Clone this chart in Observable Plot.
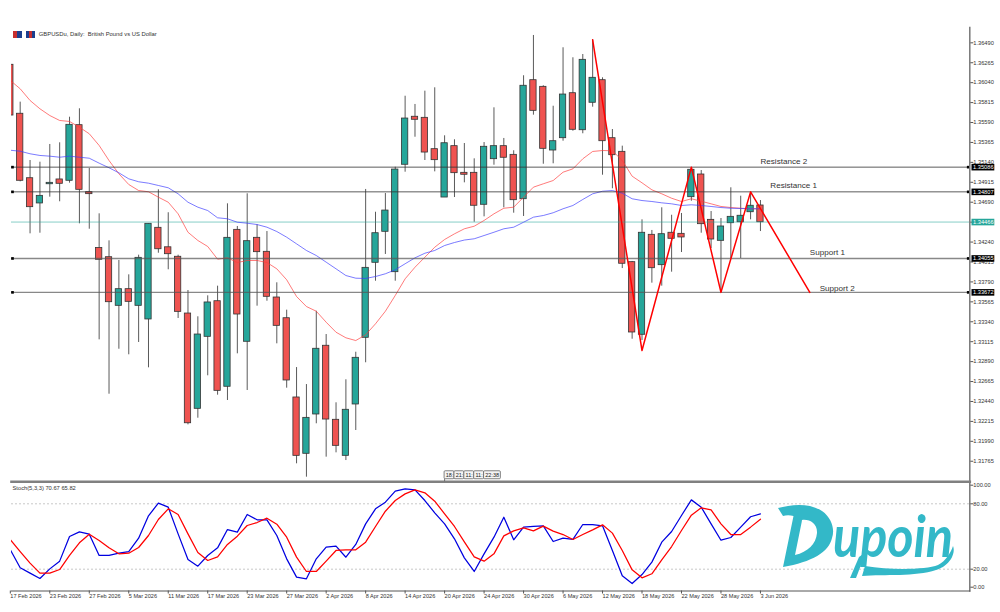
<!DOCTYPE html>
<html>
<head>
<meta charset="utf-8">
<script src="https://cdn.jsdelivr.net/npm/d3@7"></script>
<script src="https://cdn.jsdelivr.net/npm/@observablehq/plot@0.6"></script>
<style>
html,body{margin:0;padding:0;background:#fff;width:1000px;height:612px;overflow:hidden;position:relative}
svg{display:block}
.ic{position:absolute;top:31px;width:9px;height:7px}
</style>
</head>
<body>
<div class="ic" style="left:13px;background:linear-gradient(90deg,#c62f2f 0 50%,#1c3f8f 50%)"></div>
<div class="ic" style="left:26px;background:linear-gradient(90deg,#1c3f8f 0 30%,#c62f2f 30% 65%,#1c3f8f 65%)"></div>
<script>
const highs=[1.36242,1.35820,1.35161,1.35142,1.35342,1.35361,1.35650,1.35745,1.35071,1.34559,
1.34254,1.34032,1.33870,1.34092,1.34446,1.34830,1.34571,1.34092,1.33693,1.33396,
1.33633,1.33742,1.34672,1.34416,1.34785,1.34435,1.34359,1.33780,1.33471,1.32823,
1.32631,1.33459,1.33196,1.32425,1.32685,1.32996,1.34834,1.34577,1.34788,1.35085,
1.35887,1.35794,1.35944,1.35982,1.35440,1.35395,1.35353,1.35180,1.35364,1.35756,
1.35410,1.35271,1.36118,1.36573,1.36005,1.35774,1.36434,1.36321,1.36358,1.36524,
1.36095,1.35511,1.35323,1.34021,1.34491,1.34371,1.34627,1.34543,1.34563,1.35067,
1.35048,1.34585,1.34506,1.34853,1.34758,1.34788,1.34709];
const lows=[1.35669,1.34920,1.34333,1.34340,1.34747,1.34695,1.34905,1.34446,1.34385,1.33136,
1.32522,1.33030,1.32967,1.33106,1.32820,1.34114,1.33927,1.33377,1.32176,1.32251,
1.32730,1.32511,1.32451,1.32978,1.32564,1.33516,1.33572,1.33091,1.32590,1.31736,
1.31585,1.32188,1.31811,1.31860,1.31773,1.32112,1.32877,1.33798,1.34100,1.33798,
1.35029,1.35424,1.35161,1.35033,1.34743,1.34743,1.34909,1.34464,1.34525,1.35108,
1.34627,1.34566,1.34529,1.35673,1.35119,1.35124,1.35379,1.35492,1.35463,1.35763,
1.34995,1.34842,1.33941,1.33143,1.33128,1.33776,1.33742,1.33900,1.34122,1.34701,
1.34340,1.34167,1.33674,1.34051,1.34054,1.34491,1.34359];
const opens=[1.36242,1.35689,1.34961,1.34676,1.34893,1.34947,1.34932,1.35560,1.34803,1.34173,
1.34069,1.33520,1.33708,1.33520,1.33366,1.34401,1.34181,1.34074,1.33433,1.32357,
1.33170,1.33572,1.32606,1.34378,1.33114,1.34288,1.34130,1.33614,1.33380,1.32485,
1.31849,1.32293,1.33069,1.32233,1.31826,1.32406,1.33159,1.34006,1.34356,1.33900,
1.35113,1.35655,1.35643,1.35289,1.34743,1.35323,1.35022,1.35022,1.34661,1.35176,
1.35323,1.35225,1.34724,1.36068,1.35993,1.35274,1.35413,1.35921,1.35503,1.35813,
1.36068,1.35413,1.35259,1.34013,1.33193,1.34322,1.33979,1.34345,1.34333,1.34747,
1.35003,1.34491,1.34254,1.34453,1.34464,1.34577,1.34653];
const closes=[1.35669,1.34932,1.34634,1.34762,1.34909,1.34898,1.35564,1.34830,1.34781,1.34040,
1.33561,1.33708,1.33565,1.34062,1.34446,1.34159,1.34103,1.33452,1.32194,1.33196,
1.33558,1.32560,1.34288,1.33422,1.34250,1.34126,1.33622,1.33294,1.32677,1.31826,
1.32255,1.33035,1.32236,1.31939,1.32346,1.32933,1.33949,1.34340,1.34596,1.35059,
1.35635,1.35621,1.35251,1.35165,1.35356,1.35018,1.35000,1.34650,1.35316,1.35323,
1.35192,1.34713,1.36005,1.35722,1.35293,1.35379,1.35906,1.35508,1.36298,1.36095,
1.35379,1.35221,1.33995,1.33219,1.34345,1.33945,1.34329,1.34277,1.34292,1.35056,
1.34442,1.34269,1.34416,1.34525,1.34537,1.34650,1.34464];
const maFast=[1.36065,1.35971,1.35839,1.35745,1.35669,1.35613,1.35602,1.35537,1.35463,1.35331,
1.35161,1.35011,1.34890,1.34822,1.34808,1.34747,1.34690,1.34559,1.34351,1.34258,
1.34190,1.34047,1.34062,1.34009,1.34032,1.34032,1.34009,1.33938,1.33814,1.33625,
1.33512,1.33459,1.33335,1.33222,1.33159,1.33128,1.33193,1.33317,1.33459,1.33637,
1.33825,1.33956,1.34069,1.34182,1.34269,1.34333,1.34390,1.34419,1.34484,1.34559,
1.34622,1.34634,1.34747,1.34860,1.34898,1.34935,1.35029,1.35067,1.35180,1.35263,
1.35274,1.35271,1.35161,1.34984,1.34909,1.34830,1.34785,1.34735,1.34698,1.34729,
1.34701,1.34672,1.34642,1.34630,1.34622,1.34616,1.34616];
const maSlow=[1.35277,1.35266,1.35237,1.35218,1.35210,1.35198,1.35210,1.35198,1.35187,1.35131,
1.35079,1.35022,1.34954,1.34921,1.34905,1.34879,1.34853,1.34785,1.34690,1.34634,
1.34596,1.34514,1.34503,1.34464,1.34453,1.34438,1.34408,1.34359,1.34295,1.34220,
1.34145,1.34088,1.34013,1.33938,1.33862,1.33832,1.33829,1.33851,1.33882,1.33927,
1.33995,1.34062,1.34114,1.34145,1.34201,1.34235,1.34263,1.34277,1.34314,1.34351,
1.34390,1.34408,1.34464,1.34521,1.34540,1.34571,1.34616,1.34653,1.34721,1.34785,
1.34814,1.34822,1.34792,1.34729,1.34709,1.34698,1.34683,1.34672,1.34653,1.34661,
1.34653,1.34642,1.34630,1.34622,1.34619,1.34616,1.34616];
const stochMain=[37.8,21.3,16.4,11.5,20.3,27.4,50,54.3,52.1,32.6,
32.6,34.7,36.2,48.5,69,80.6,76.9,52.4,28.9,22.8,
32.6,39.6,56.4,54,70.2,65.3,65.3,50.9,29.5,12.7,
11.2,29.5,40.2,41.1,31,42.7,61.6,75.4,81.5,91.6,
93.7,92.8,83,71.7,61.6,47.9,30.4,17.9,34.1,49.4,
67.7,47,58.6,59.2,59.8,45.4,48.5,47.3,61,61,
59.8,37.2,13.9,6.9,15.1,26.5,44.8,54.6,69.3,83.6,
76.9,61.6,46.6,49.1,58.6,68.1,70.67];
const stochSignal=[47,36.2,25.6,16.4,16.4,19.7,32.6,44.2,52.1,46.3,
39.6,34.1,34.7,39.9,50.9,65.6,75.4,70.2,52.4,35.3,
28,31.3,42.7,50.3,60.1,62.8,66.8,61.3,49.4,31.1,
17.9,17.9,27.4,37.2,37.8,37.8,44.8,59.2,73.2,83,
89.1,92.8,90.1,82.4,70.8,59.2,45.1,31.3,27.4,34.1,
50.6,55.2,58,55.2,59.5,54.9,51.8,47.3,51.8,56.1,
60.7,53.1,37.2,19.4,12.1,15.8,28.6,40.8,55.5,69.6,
76.3,74.5,61.6,51.8,51.8,58.6,65.82];
const zigzagBars=[59,64,69,72,75,81];
const zigzagPrices=[1.36524,1.33015,1.35086,1.33672,1.34807,1.33672];
const priceTicks=[1.36490,1.36265,1.36040,1.35815,1.35590,1.35365,1.35140,1.34915,1.34690,1.34465,1.34240,1.34015,1.33790,1.33565,1.33340,1.33115,1.32890,1.32665,1.32440,1.32215,1.31990,1.31765];
const levelNames=["Resistance 2","Resistance 1","Support 1","Support 2"];
const levelPrices=[1.35086,1.34807,1.34055,1.33672];
const levelLabelBars=[76,77,81,82];
const lastPrice=1.34466;
const priceFloor=1.31534;
const priceCeil=1.36663;
const dateTicks=[0,4,8,12,16,20,24,28,32,36,40,44,48,52,56,60,64,68,72,76];
const dateLabels=["17 Feb 2026","23 Feb 2026","27 Feb 2026","5 Mar 2026","11 Mar 2026","17 Mar 2026","23 Mar 2026","27 Mar 2026","2 Apr 2026","8 Apr 2026","14 Apr 2026","20 Apr 2026","24 Apr 2026","30 Apr 2026","6 May 2026","12 May 2026","18 May 2026","22 May 2026","28 May 2026","3 Jun 2026"];
const timeTagText=["18:","21:","11:","11:","22:38"];
const timeTagStart=[44,45,46,47,48];
const timeTagEnd=[45,46,47,48,49.7];
const timeTagPrices=[1.31652,1.31562];
const stochTicks=[20,80];
const stochTop=[100];
const stochBottom=[0];

const font="Liberation Sans";
const candles=highs.map((h,i)=>({i,h,l:lows[i],o:opens[i],c:closes[i],up:closes[i]>=opens[i]}));
const fmt=d=>d.toFixed(5);
const xScale={domain:[0.12,97.21],axis:null};
const clip={clip:"frame"};

const levelData=levelPrices.map((p,i)=>({p,name:levelNames[i],bar:levelLabelBars[i]}));
const tags=timeTagText.map((t,i)=>({t,a:timeTagStart[i],b:timeTagEnd[i]}));

const price=Plot.plot({
  width:1000,height:483,marginLeft:11,marginRight:30.7,marginTop:27,marginBottom:1.8,
  style:{background:"transparent",fontFamily:font,overflow:"visible"},
  x:xScale,
  y:{domain:[priceFloor,priceCeil],axis:null},
  marks:[
    Plot.ruleX(candles,{x:"i",y1:"l",y2:"h",stroke:"#5a5a5a",strokeWidth:1,...clip}),
    Plot.rect(candles,{x1:d=>d.i-0.32,x2:d=>d.i+0.32,y1:d=>Math.min(d.o,d.c),y2:d=>Math.max(d.o,d.c),
      fill:d=>d.up?"#26a69a":"#ef5350",stroke:"#333",strokeWidth:0.8,...clip}),
    Plot.ruleY([lastPrice],{stroke:"#26a69a",strokeOpacity:0.55,strokeWidth:1}),
    Plot.lineY(maFast,{x:(d,i)=>i,y:d=>d,stroke:"#ff3b3b",strokeWidth:0.8,strokeOpacity:0.85,...clip}),
    Plot.lineY(maSlow,{x:(d,i)=>i,y:d=>d,stroke:"#3b3bff",strokeWidth:0.8,strokeOpacity:0.85,...clip}),
    Plot.ruleY(levelPrices.slice(0,2),{stroke:"#333",strokeWidth:1,strokeOpacity:0.8}),
    Plot.ruleY(levelPrices.slice(2),{stroke:"#555",strokeWidth:1.4,strokeOpacity:0.7}),
    Plot.line(zigzagBars.map((b,i)=>({b,p:zigzagPrices[i]})),{x:"b",y:"p",stroke:"#f00",strokeWidth:1.5}),
    Plot.dot(levelPrices,{y:d=>d,frameAnchor:"left",symbol:"square",r:1.5,fill:"#000",dx:1}),
    Plot.dot(levelPrices,{y:d=>d,frameAnchor:"right",symbol:"square",r:1.5,fill:"#000",dx:-1.6}),
    Plot.text(levelData.slice(0,3),{x:"bar",y:"p",text:"name",textAnchor:"start",dy:-6,fontSize:8.1,fill:"#333"}),
    Plot.text(levelData.slice(3),{x:"bar",y:"p",text:"name",textAnchor:"start",dy:-3.5,fontSize:8.1,fill:"#333"}),
    Plot.frame({anchor:"right",stroke:"#777",strokeWidth:1.5}),
    Plot.frame({anchor:"bottom",stroke:"#808080",strokeWidth:2.6}),
    Plot.axisY(priceTicks,{anchor:"right",tickSize:3,tickPadding:0.5,tickFormat:fmt,fontSize:5.7,fill:"#333",stroke:"#555"}),
    Plot.ruleY(levelPrices,{stroke:"#000",strokeWidth:6.6,insetLeft:960.5,insetRight:-25}),
    Plot.ruleY([lastPrice],{stroke:"#26a69a",strokeWidth:6.6,insetLeft:960.5,insetRight:-25}),
    Plot.text(levelPrices,{y:d=>d,text:fmt,frameAnchor:"right",textAnchor:"start",dx:3.2,fontSize:5.7,fill:"#fff"}),
    Plot.text([lastPrice],{y:d=>d,text:fmt,frameAnchor:"right",textAnchor:"start",dx:3.2,fontSize:5.7,fill:"#fff"}),
    Plot.text(["GBPUSDu, Daily:  British Pound vs US Dollar"],{frameAnchor:"top-left",textAnchor:"start",lineAnchor:"middle",dx:27.3,dy:7,fontSize:5.85,fill:"#333"}),
    Plot.ruleX([44],{y1:timeTagPrices[1],y2:priceFloor,stroke:"#555",strokeWidth:0.8}),
    Plot.rect(tags,{x1:"a",x2:"b",y1:()=>timeTagPrices[1],y2:()=>timeTagPrices[0],fill:"#f4f4f4",stroke:"#666",strokeWidth:0.8,rx:1}),
    Plot.text(tags,{x:"a",y:()=>(timeTagPrices[0]+timeTagPrices[1])/2,text:"t",textAnchor:"start",dx:1.2,fontSize:5.5,fill:"#222"})
  ]
});
document.body.appendChild(price);

const stoch=Plot.plot({
  width:1000,height:129,marginLeft:11,marginRight:30.7,marginTop:0,marginBottom:21.5,
  style:{background:"transparent",fontFamily:font,overflow:"visible"},
  x:xScale,
  y:{domain:[0,100],range:[107.5,-1.5],axis:null},
  marks:[
    Plot.ruleY(stochTicks,{stroke:"#c8c8c8",strokeDasharray:"2 2",strokeWidth:1}),
    Plot.lineY(stochMain,{x:(d,i)=>i,y:d=>d,stroke:"#0000e0",strokeWidth:1.25,...clip}),
    Plot.lineY(stochSignal,{x:(d,i)=>i,y:d=>d,stroke:"#ff0000",strokeWidth:1.25,...clip}),
    Plot.frame({anchor:"right",stroke:"#777",strokeWidth:1.5}),
    Plot.frame({anchor:"bottom",stroke:"#555",strokeWidth:1}),
    Plot.text(["Stoch(5,3,3) 70.67 65.82"],{frameAnchor:"top-left",textAnchor:"start",lineAnchor:"middle",dx:1,dy:4.7,fontSize:5.75,fill:"#333"}),
    Plot.axisX(dateTicks,{anchor:"bottom",tickSize:3,tickPadding:0.5,textAnchor:"start",tickFormat:d=>dateLabels[dateTicks.indexOf(d)],fontSize:5.6,fill:"#333",stroke:"#555"}),
    Plot.axisY(stochTicks,{anchor:"right",tickSize:3,tickPadding:0.5,tickFormat:d=>d.toFixed(2),fontSize:5.7,fill:"#333",stroke:"#555"}),
    Plot.axisY(stochTop,{anchor:"right",tickSize:3,tickPadding:0.5,tickFormat:d=>d.toFixed(2),fontSize:5.7,fill:"#333",stroke:"#555",dy:3.2}),
    Plot.axisY(stochBottom,{anchor:"right",tickSize:3,tickPadding:0.5,tickFormat:d=>d.toFixed(2),fontSize:5.7,fill:"#333",stroke:"#555",dy:-3.8})
  ]
});
document.body.appendChild(stoch);

// Brand mark drawn over the indicator pane
const ns="http://www.w3.org/2000/svg";
const logo=document.createElementNS(ns,"svg");
logo.setAttribute("width",1000);logo.setAttribute("height",612);
logo.setAttribute("style","position:absolute;left:0;top:0;pointer-events:none");
logo.innerHTML=`
<g fill="#33b8c8">
<path fill-rule="evenodd" d="M778 508 C790 505 808 502 822 511 C832 518 835 530 832 538 C829 552 812 562 783 567 L793.5 516 C790 515 786 515 783 516 Z M801.7 522 L795 555 C808 552 816 544 817 533 C817.5 524 810 519 802 520 Z"/>
<path d="M862 576 L865 566 C890 570 925 570 938 565 C946 561 951 552 953 546 C956 553 950 566 936 570 C915 577 885 574 862 576 Z"/>
<path d="M859 557 L850 578 L856 578 L866 552 Z"/>
<text y="557" font-family="Lato, 'Open Sans', sans-serif" font-weight="700" font-style="italic"><tspan x="784" font-size="40" fill-opacity="0">D</tspan><tspan x="833" font-size="58" textLength="120" lengthAdjust="spacingAndGlyphs">upoin</tspan></text>
</g>`;
document.body.appendChild(logo);
</script>
</body>
</html>
